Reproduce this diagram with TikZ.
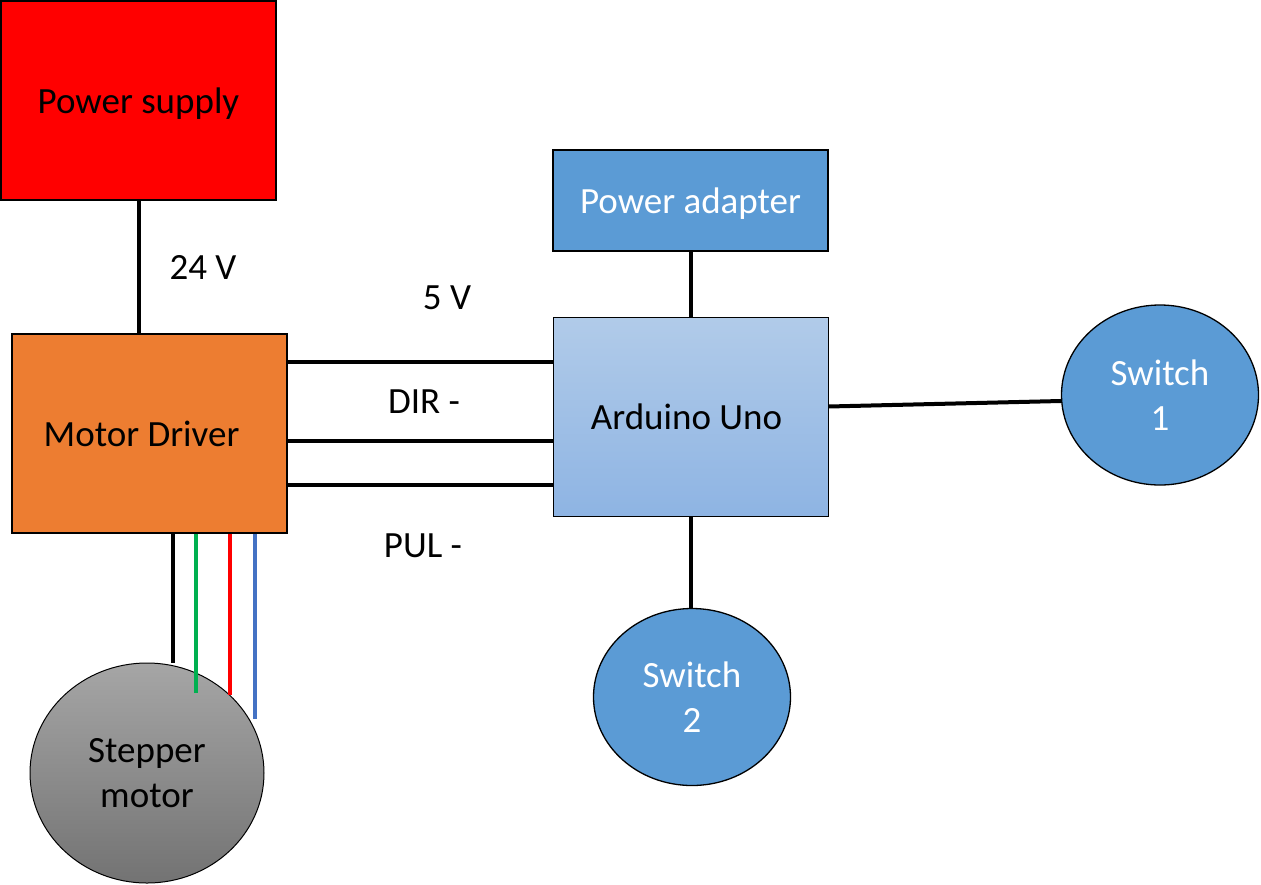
\documentclass[tikz,border=0pt]{standalone}
\usepackage{fontspec}
\setmainfont{Carlito}
\usetikzlibrary{shapes.geometric}
\definecolor{psred}{HTML}{FF0000}
\definecolor{drvorange}{HTML}{ED7D31}
\definecolor{swblue}{HTML}{5B9BD5}
\definecolor{unotop}{HTML}{B1CBE9}
\definecolor{unobot}{HTML}{8EB4E3}
\definecolor{wgreen}{HTML}{00B050}
\definecolor{wblue}{HTML}{4472C4}
\tikzset{
  box/.style={draw=black,line width=2pt,inner sep=0pt,minimum width=275pt,text depth=0pt},
  switch/.style={ellipse,draw=black,line width=1.3pt,fill=swblue,text=white,align=center,inner sep=0pt},
  wire/.style={line width=4pt}
}
\begin{document}
\begin{tikzpicture}[x=1pt,y=-1pt,font=\fontsize{37}{45}\selectfont]
\useasboundingbox (0,0) rectangle (1261,884);
\node[box,fill=psred,minimum height=199pt] (supply) at (138.5,100.5) {Power supply};
\node[box,fill=drvorange,minimum height=199pt] (driver) at (149.5,433.5) {\hspace*{-16pt}Motor Driver};
\node[box,fill=swblue,text=white,minimum height=101pt] (adapter) at (690.5,200.5) {Power adapter};
\node[box,line width=1pt,minimum height=199pt,
  top color=unotop,bottom color=unobot] (uno) at (690.5,416.5) {\hspace*{-8pt}Arduino Uno};
\node[switch,minimum width=197pt,minimum height=180pt] (sw1) at (1160,395) {Switch\\1};
\node[switch,minimum width=197pt,minimum height=177pt] (sw2) at (692,697) {Switch\\2};
\node[ellipse,draw=black,line width=1pt,minimum width=234pt,minimum height=220pt,inner sep=0pt,
  top color=black!35,bottom color=black!55,align=center] (motor) at (147,773) {Stepper\\motor};
% power lines
\draw[wire] (supply.south) -- (supply.south |- driver.north);
\draw[wire] (adapter) -- (uno);
\draw[wire] (uno.south) -- (uno.south |- sw2.north);
\draw[wire] ([yshift=10pt]uno.east) -- ([yshift=-6pt]sw1.west);
% signal lines
\foreach \y in {362,441,485}
  \draw[wire] (driver.east |- 0,\y) -- (uno.west |- 0,\y);
% motor wires
\foreach \x/\c/\e in {173/black/663,196/wgreen/693,230/red/695,255/wblue/719}{
  \coordinate (w\x) at (\x,\e);
  \draw[wire,\c] (driver.south -| w\x) -- (w\x);
}
\node (v24) at (203,267) {24 V};
\node (v5) at (447,298) {5 V};
\node (dir) at (424,402) {DIR -};
\node (pul) at (423,546) {PUL -};
\end{tikzpicture}
\end{document}
